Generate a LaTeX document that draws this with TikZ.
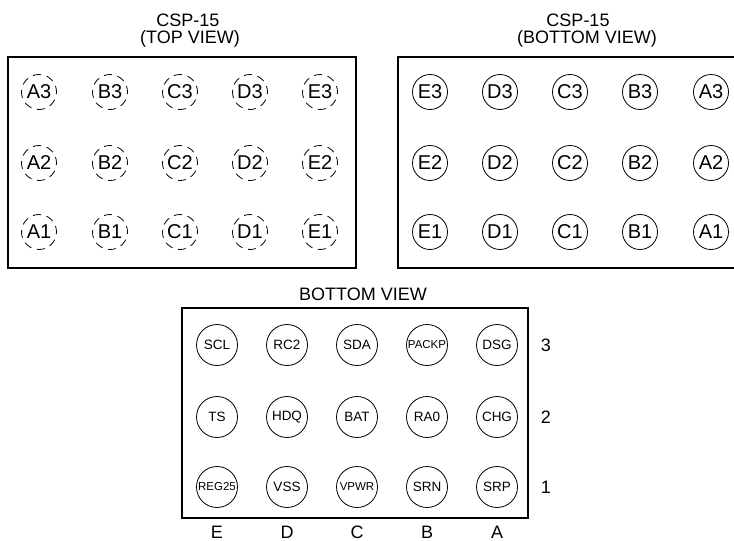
\documentclass[tikz,border=0pt]{standalone}
\usepackage{fontspec}
\setmainfont{Liberation Sans}
\begin{document}
\begin{tikzpicture}[x=1pt,y=-1pt,
  pkgbox/.style={draw,line width=1.8pt},
  titletext/.style={inner sep=0pt,anchor=base,font=\fontsize{18}{18}\selectfont},
  pinlbl/.style={circle,draw,line width=0.8pt,minimum size=35pt,inner sep=0pt,font=\fontsize{20}{20}\selectfont},
  dashpin/.style={pinlbl,dash pattern=on 8pt off 5.7pt,dash phase=2pt},
  bigpin/.style={circle,draw,line width=0.8pt,minimum size=41pt,inner sep=0pt,font=\fontsize{13.5}{13.5}\selectfont},
  smallpin/.style={bigpin,font=\fontsize{11.5}{11.5}\selectfont},
  axislbl/.style={inner sep=0pt,font=\fontsize{18}{18}\selectfont}]
\useasboundingbox (0,0) rectangle (734,541);
% titles
\node[titletext] (t1a) at (188,26.5) {CSP-15};
\node[titletext] (t1b) at (190,43.5) {(TOP VIEW)};
\node[titletext] (t2a) at (578,26.5) {CSP-15};
\node[titletext] (t2b) at (587,43.5) {(BOTTOM VIEW)};
\node[titletext] (t3) at (363,300) {BOTTOM VIEW};
% boxes
\draw[pkgbox] (8,57) rectangle (356,268);
\draw[pkgbox] (740,57) -- (398,57) -- (398,268) -- (740,268);
\draw[pkgbox] (182,308) rectangle (528,518);
% top view (dashed)
\foreach \c/\x in {A/39,B/110,C/180,D/250,E/320}{
  \foreach \r/\y in {3/92,2/163,1/232}{
    \node[dashpin] (t\c\r) at (\x,\y) {\c\r};
  }
}
% bottom view
\foreach \c/\x in {E/430,D/500,C/570,B/640,A/711}{
  \foreach \r/\y in {3/92,2/163,1/232}{
    \node[pinlbl] (b\c\r) at (\x,\y) {\c\r};
  }
}
% pin-out
\node[bigpin] (pSCL) at (217,345) {SCL};
\node[bigpin] (pRC2) at (287,345) {RC2};
\node[bigpin] (pSDA) at (357,345) {SDA};
\node[smallpin] (pPACKP) at (427,345) {PACKP};
\node[bigpin] (pDSG) at (497,345) {DSG};
\node[bigpin] (pTS) at (217,417) {TS};
\node[bigpin] (pHDQ) at (287,417) {HDQ};
\node[bigpin] (pBAT) at (357,417) {BAT};
\node[bigpin] (pRA0) at (427,417) {RA0};
\node[bigpin] (pCHG) at (497,417) {CHG};
\node[smallpin] (pREG) at (217,487) {REG25};
\node[bigpin] (pVSS) at (287,487) {VSS};
\node[smallpin] (pVPWR) at (357,487) {VPWR};
\node[bigpin] (pSRN) at (427,487) {SRN};
\node[bigpin] (pSRP) at (497,487) {SRP};
% axis labels
\node[axislbl] (r3) at (546,345) {3};
\node[axislbl] (r2) at (546,417) {2};
\node[axislbl] (r1) at (546,487) {1};
\node[axislbl,anchor=base] (cE) at (217,538) {E};
\node[axislbl,anchor=base] (cD) at (287,538) {D};
\node[axislbl,anchor=base] (cC) at (357,538) {C};
\node[axislbl,anchor=base] (cB) at (427,538) {B};
\node[axislbl,anchor=base] (cA) at (497,538) {A};
\end{tikzpicture}
\end{document}
